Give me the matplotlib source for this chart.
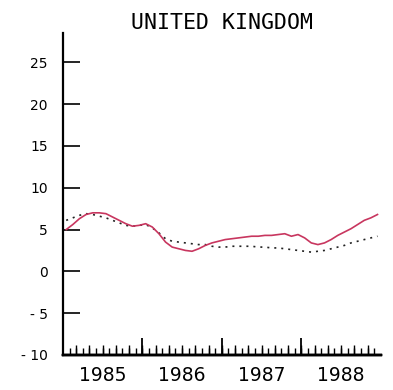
import numpy as np
import matplotlib
matplotlib.use("Agg")
import matplotlib.pyplot as plt

# monthly series, Jan 1985 .. Dec 1988 (percent)
years = [1985, 1986, 1987, 1988]
red_series = [5.0, 5.6, 6.3, 6.8, 7.0, 7.0, 6.9, 6.5, 6.1, 5.7, 5.4, 5.5,
              5.7, 5.3, 4.5, 3.5, 2.9, 2.7, 2.5, 2.4, 2.7, 3.1, 3.4, 3.6,
              3.8, 3.9, 4.0, 4.1, 4.2, 4.2, 4.3, 4.3, 4.4, 4.5, 4.2, 4.4,
              4.0, 3.4, 3.2, 3.4, 3.8, 4.3, 4.7, 5.1, 5.6, 6.1, 6.4, 6.8]
dotted_series = [6.1, 6.4, 6.7, 6.9, 6.8, 6.6, 6.4, 6.1, 5.8, 5.5, 5.4, 5.5,
                 5.6, 5.2, 4.6, 3.9, 3.6, 3.5, 3.4, 3.3, 3.2, 3.2, 3.0, 2.9,
                 2.9, 3.0, 3.0, 3.0, 3.0, 2.9, 2.9, 2.8, 2.8, 2.7, 2.6, 2.5,
                 2.4, 2.3, 2.4, 2.5, 2.7, 2.9, 3.1, 3.4, 3.6, 3.8, 4.0, 4.2]
y_ticks = [-10, -5, 0, 5, 10, 15, 20, 25]
y_labels = ["- 10", "- 5", "0", "5", "10", "15", "20", "25"]

t = years[0] + (np.arange(len(red_series)) + 0.5) / 12.0

fig = plt.figure(figsize=(3.93, 3.90), dpi=100)
ax = fig.add_axes([0.160, 0.090, 0.809, 0.825])

ax.plot(t, dotted_series, color="#222222", lw=1.2, linestyle=(0, (1.2, 3.0)))
ax.plot(t, red_series, color="#c8365f", lw=1.2)

ax.set_xlim(years[0], years[-1] + 1)
ax.set_ylim(-10, 28.5)

for s in ["top", "right"]:
    ax.spines[s].set_visible(False)
ax.spines["left"].set_linewidth(1.6)
ax.spines["bottom"].set_linewidth(1.6)

# y axis: long inward ticks
ax.set_yticks(y_ticks)
ax.set_yticklabels(y_labels)
ax.tick_params(axis="y", direction="in", length=12, width=1.2, pad=11,
               labelsize=10)

ax.set_xticks([])

months = [years[0] + m / 12.0 for m in range(1, 48)]


def tick_row(locs, length, width, labels=None, **kw):
    sec = ax.secondary_xaxis("bottom")
    sec.set_xticks(locs)
    sec.set_xticklabels(labels if labels else [])
    sec.tick_params(direction="in", length=length, width=width, **kw)
    sec.spines["bottom"].set_linewidth(1.6)
    return sec


tick_row(months, 5.0, 1.0)              # every month
tick_row(months[1::2], 7.0, 1.0)        # every second month
tick_row(years[1:], 12, 1.3)            # year boundaries
tick_row([y + 0.5 for y in years], 0, 0,
         labels=[str(y) for y in years], pad=8, labelsize=13.5)

ax.set_title("UNITED KINGDOM", family="DejaVu Sans Mono", fontsize=15.5,
             pad=3)

fig.savefig("out.png", dpi=100)
